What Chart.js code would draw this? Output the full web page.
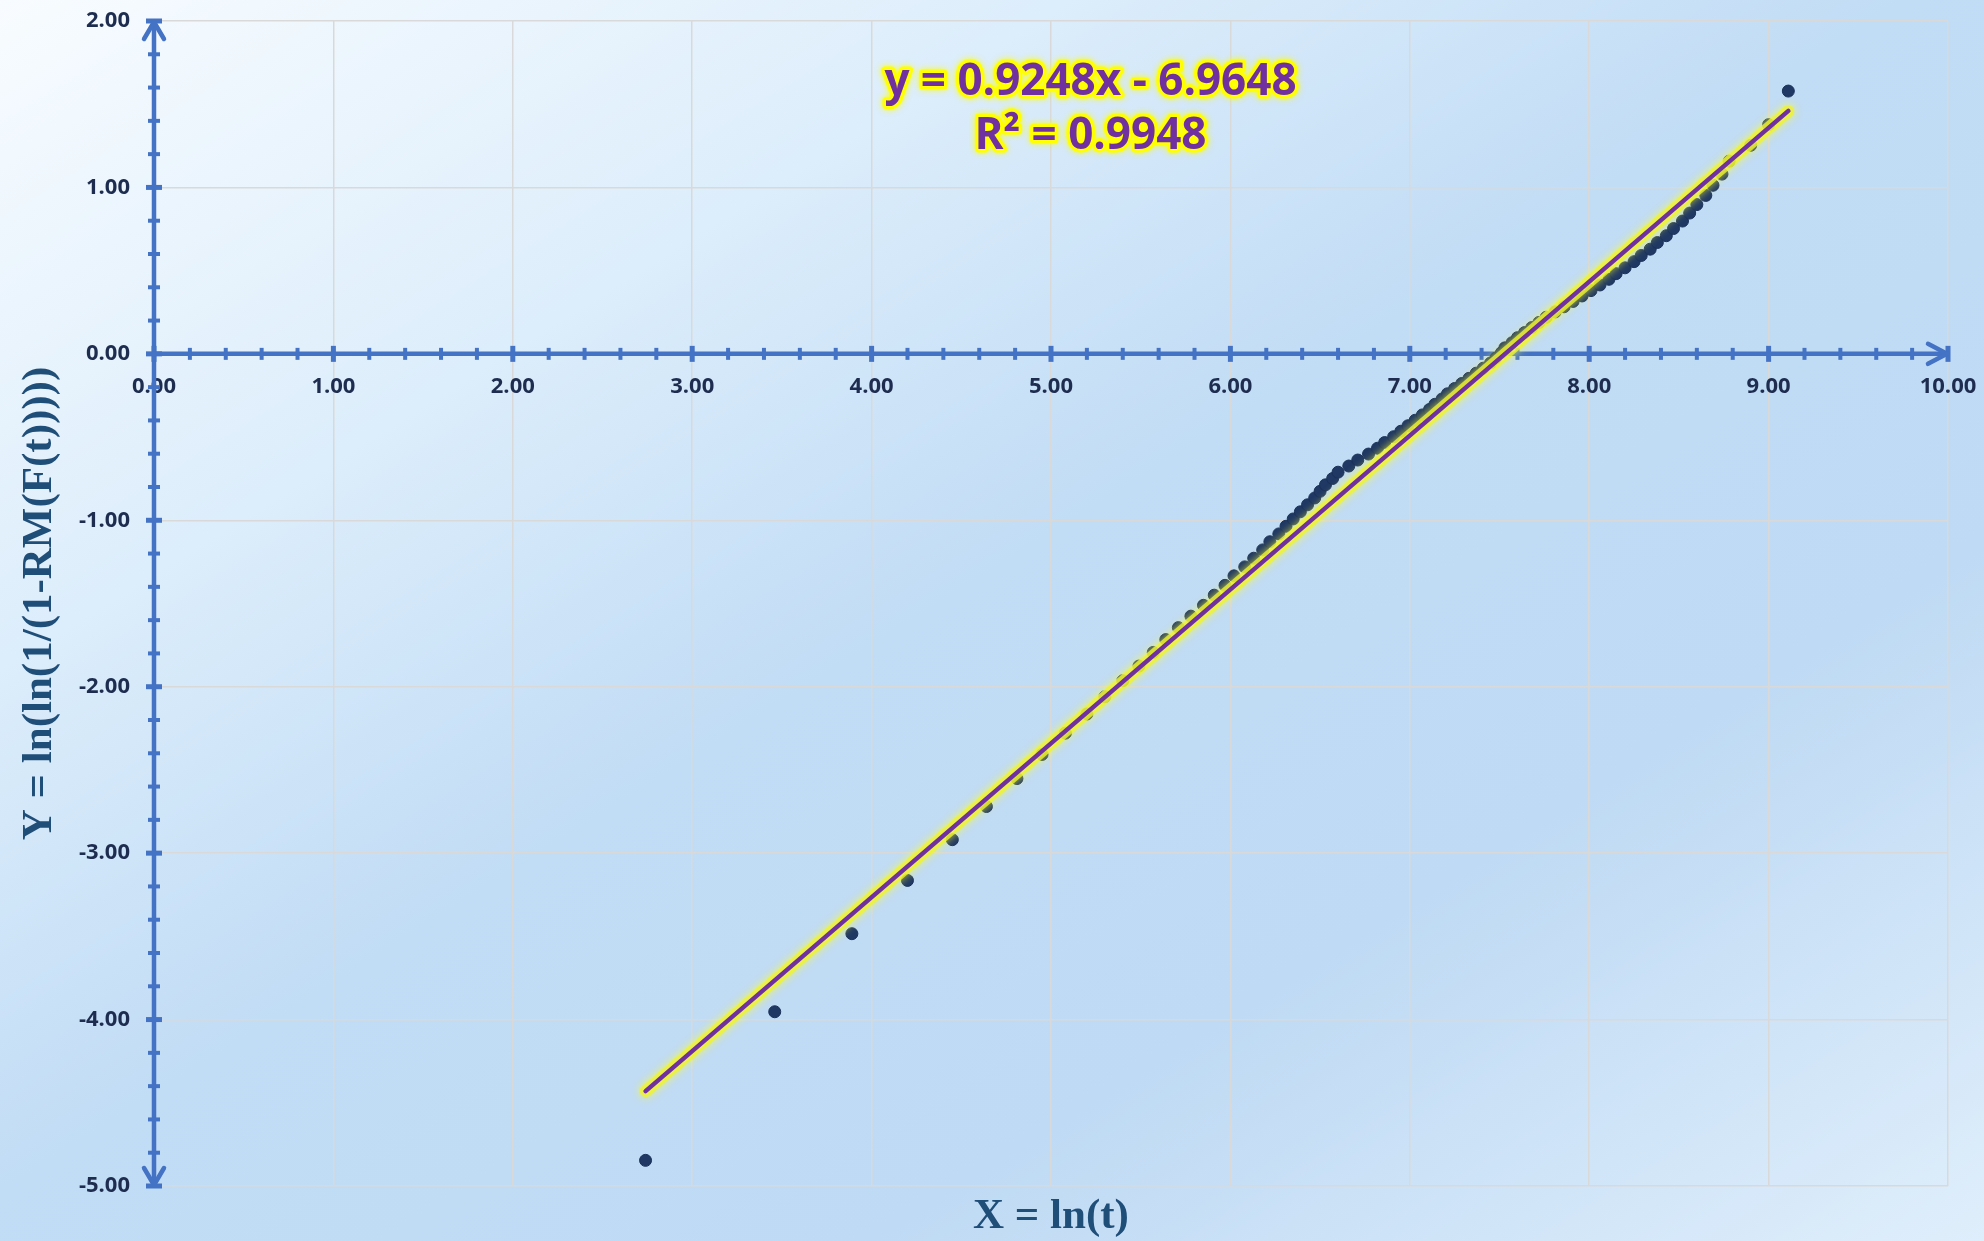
<!DOCTYPE html>
<html>
<head>
<meta charset="utf-8">
<title>Weibull plot</title>
<script src="https://cdn.jsdelivr.net/npm/chart.js@4.4.1/dist/chart.umd.min.js"></script>
<style>
    html, body { margin: 0; padding: 0; }
    body {
        width: 1984px; height: 1241px; overflow: hidden;
        background: linear-gradient(to bottom right, #f8fcff 0%, #dcedfb 27%, #c1dcf5 48%, #bfdaf4 72%, #dfeefb 100%);
    }
    canvas { display: block; }
</style>
</head>
<body>
<canvas id="chart" width="1984" height="1241"></canvas>
<script>
// X = ln(t), Y = ln(ln(1/(1-RM(F(t)))))
const lnT = [
    2.74, 3.46, 3.89, 4.20, 4.45, 4.64, 4.81, 4.95, 5.08, 5.20,
    5.30, 5.40, 5.49, 5.57, 5.64, 5.71, 5.78, 5.85, 5.91, 5.97,
    6.02, 6.08, 6.13, 6.18, 6.22, 6.27, 6.31, 6.35, 6.39, 6.43,
    6.47, 6.50, 6.53, 6.57, 6.60, 6.66, 6.71, 6.77, 6.82, 6.86,
    6.91, 6.95, 6.99, 7.03, 7.07, 7.11, 7.14, 7.18, 7.21, 7.25,
    7.29, 7.33, 7.37, 7.41, 7.45, 7.48, 7.51, 7.53, 7.57, 7.60,
    7.64, 7.68, 7.72, 7.76, 7.81, 7.86, 7.91, 7.96, 8.01, 8.06,
    8.11, 8.15, 8.20, 8.25, 8.29, 8.34, 8.38, 8.43, 8.47, 8.52,
    8.56, 8.60, 8.65, 8.69, 8.74, 8.78, 8.90, 9.00, 9.11
];
const weibullY = [
    -4.846, -3.953, -3.484, -3.164, -2.919, -2.720, -2.552, -2.407, -2.279, -2.164,
    -2.060, -1.964, -1.876, -1.794, -1.717, -1.645, -1.576, -1.511, -1.450, -1.391,
    -1.334, -1.280, -1.228, -1.178, -1.129, -1.082, -1.036, -0.992, -0.949, -0.907,
    -0.866, -0.826, -0.787, -0.749, -0.711, -0.674, -0.638, -0.602, -0.567, -0.533,
    -0.498, -0.465, -0.432, -0.399, -0.367, -0.334, -0.303, -0.271, -0.240, -0.208,
    -0.178, -0.147, -0.116, -0.086, -0.055, -0.025, 0.006, 0.036, 0.067, 0.097,
    0.128, 0.158, 0.189, 0.220, 0.252, 0.283, 0.315, 0.348, 0.380, 0.414,
    0.448, 0.482, 0.517, 0.554, 0.591, 0.629, 0.669, 0.710, 0.753, 0.798,
    0.846, 0.897, 0.952, 1.013, 1.080, 1.158, 1.253, 1.377, 1.579
];
// linear trendline end points
const trendX = [2.74, 9.11];
const trendY = [-4.43, 1.46];
const equationLines = ['y = 0.9248x - 6.9648', 'R\u00B2 = 0.9948'];

const xTickValues = [0, 1, 2, 3, 4, 5, 6, 7, 8, 9, 10];
const yTickValues = [-5, -4, -3, -2, -1, 0, 1, 2];
const minorStep = 0.2;

const axisColor = '#4472c4';
const labelColor = '#1e2d4f';
const titleColor = '#1f4e79';
const tickFont = { family: '"Open Sans", "DejaVu Sans", sans-serif', size: 22, weight: 'bold' };
const titleFont = { family: '"Liberation Serif", serif', size: 43, weight: 'bold', lineHeight: 1 };

// axes crossing at (0,0) with arrows and minor ticks
const crossAxes = {
    id: 'crossAxes',
    beforeDatasetsDraw(chart) {
        const { ctx } = chart;
        const x = chart.scales.x, y = chart.scales.y;
        const x0 = x.getPixelForValue(0), y0 = y.getPixelForValue(0);
        const xl = x.getPixelForValue(x.min), xr = x.getPixelForValue(x.max);
        const yt = y.getPixelForValue(y.max), yb = y.getPixelForValue(y.min);
        ctx.save();
        ctx.strokeStyle = axisColor;
        ctx.lineCap = 'butt';
        ctx.lineWidth = 4.5;
        ctx.beginPath();
        ctx.moveTo(xl, y0); ctx.lineTo(xr, y0);
        ctx.moveTo(x0, yt); ctx.lineTo(x0, yb);
        ctx.stroke();

        const isMajor = v => Math.abs(v - Math.round(v)) < 1e-6;
        for (let v = x.min; v <= x.max + 1e-9; v += minorStep) {
            const px = x.getPixelForValue(v), h = isMajor(v) ? 8 : 6;
            ctx.lineWidth = isMajor(v) ? 5 : 4;
            ctx.beginPath(); ctx.moveTo(px, y0 - h); ctx.lineTo(px, y0 + h); ctx.stroke();
        }
        for (let v = y.min; v <= y.max + 1e-9; v += minorStep) {
            const py = y.getPixelForValue(v), h = isMajor(v) ? 8 : 6;
            ctx.lineWidth = isMajor(v) ? 5 : 4;
            ctx.beginPath(); ctx.moveTo(x0 - h, py); ctx.lineTo(x0 + h, py); ctx.stroke();
        }

        // arrow heads
        ctx.lineWidth = 4.5;
        ctx.lineJoin = 'round';
        ctx.lineCap = 'round';
        ctx.beginPath();
        ctx.moveTo(x0 - 10, yt + 18); ctx.lineTo(x0, yt + 1); ctx.lineTo(x0 + 10, yt + 18);
        ctx.moveTo(x0 - 10, yb - 18); ctx.lineTo(x0, yb - 1); ctx.lineTo(x0 + 10, yb - 18);
        ctx.moveTo(xr - 20, y0 - 10); ctx.lineTo(xr - 1, y0); ctx.lineTo(xr - 20, y0 + 10);
        ctx.stroke();
        ctx.restore();
    }
};

// soft yellow glow under the trendline
const glow = {
    id: 'glow',
    beforeDatasetDraw(chart, args) {
        if (args.index !== 1) return;
        chart.ctx.save();
        chart.ctx.shadowColor = 'rgba(255, 255, 40, 0.9)';
        chart.ctx.shadowBlur = 8;
    },
    afterDatasetDraw(chart, args) {
        if (args.index !== 1) return;
        chart.ctx.restore();
    }
};

// trendline equation label
const equation = {
    id: 'equation',
    afterDatasetsDraw(chart) {
        const { ctx } = chart;
        const cx = chart.scales.x.getPixelForValue(5.22);
        const cy = chart.scales.y.getPixelForValue(1.63);
        ctx.save();
        ctx.font = 'bold 44px "Open Sans", sans-serif';
        ctx.textAlign = 'center';
        ctx.textBaseline = 'middle';
        ctx.lineJoin = 'round';
        equationLines.forEach((line, i) => {
            const ly = cy + i * 54;
            ctx.shadowColor = '#ffff00';
            ctx.shadowBlur = 6;
            ctx.strokeStyle = 'rgba(255, 255, 0, 0.95)';
            ctx.lineWidth = 7;
            ctx.strokeText(line, cx, ly);
            ctx.shadowBlur = 0;
            ctx.fillStyle = '#7030a0';
            ctx.fillText(line, cx, ly);
        });
        ctx.restore();
    }
};

const points = lnT.map((v, i) => ({ x: v, y: weibullY[i] }));
const trend = trendX.map((v, i) => ({ x: v, y: trendY[i] }));

new Chart(document.getElementById('chart'), {
    type: 'scatter',
    data: {
        datasets: [
            {
                label: 'trend',
                type: 'line',
                data: trend,
                borderColor: '#7030a0',
                borderWidth: 4.5,
                borderCapStyle: 'round',
                pointRadius: 0,
                fill: false,
                order: 1
            },
            {
                label: 'trend glow',
                type: 'line',
                data: trend,
                borderColor: 'rgba(238, 242, 50, 0.78)',
                borderWidth: 12,
                borderCapStyle: 'round',
                pointRadius: 0,
                fill: false,
                order: 2
            },
            {
                label: 'data',
                data: points,
                backgroundColor: '#1f3864',
                borderColor: '#1a3158',
                borderWidth: 1,
                pointRadius: 6,
                order: 3
            }
        ]
    },
    options: {
        responsive: false,
        animation: false,
        layout: { padding: { left: 0, right: 36, top: 21, bottom: 0 } },
        plugins: { legend: { display: false }, tooltip: { enabled: false } },
        scales: {
            x: {
                type: 'linear', min: 0, max: 10,
                position: { y: 0 },
                afterBuildTicks: s => { s.ticks = xTickValues.map(v => ({ value: v })); },
                afterFit: s => { s.paddingLeft = 0; s.paddingRight = 0; },
                grid: { color: '#d9d9d9', lineWidth: 1.5, drawTicks: false },
                border: { display: false },
                ticks: { padding: 20, color: labelColor, font: tickFont, maxRotation: 0, autoSkip: false,
                         callback: v => v.toFixed(2) }
            },
            xTitle: {
                type: 'linear', min: 0, max: 10,
                position: 'bottom',
                afterFit: s => { s.height = 55; s.paddingLeft = 0; s.paddingRight = 0; },
                grid: { display: false, drawTicks: false },
                border: { display: false },
                ticks: { display: false },
                title: { display: true, text: 'X = ln(t)', color: titleColor, font: titleFont, padding: { top: 0, bottom: 3 } }
            },
            y: {
                type: 'linear', min: -5, max: 2,
                position: 'left',
                afterFit: s => { s.width = 154; s.paddingTop = 0; s.paddingBottom = 0; },
                afterBuildTicks: s => { s.ticks = yTickValues.map(v => ({ value: v })); },
                grid: { color: '#d9d9d9', lineWidth: 1.5, drawTicks: false },
                border: { display: false },
                ticks: { padding: 24, color: labelColor, font: tickFont, callback: v => v.toFixed(2) },
                title: { display: true, text: 'Y = ln(ln(1/(1-RM(F(t)))))', color: titleColor, font: titleFont, padding: { top: 18, bottom: 0 } }
            }
        }
    },
    plugins: [crossAxes, glow, equation]
});
</script>
</body>
</html>
